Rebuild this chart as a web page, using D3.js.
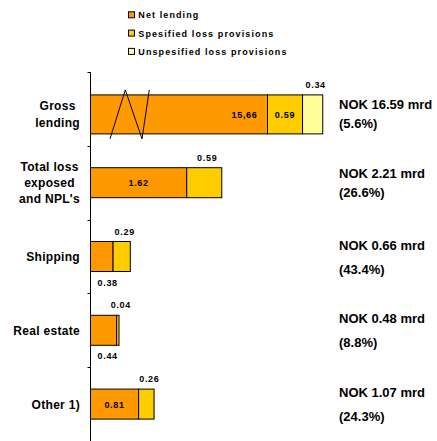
<!DOCTYPE html>
<html>
<head>
<meta charset="utf-8">
<script src="https://cdn.jsdelivr.net/npm/d3@7"></script>
<style>
  html, body { margin: 0; padding: 0; background: #fff; }
  svg { display: block; font-family: "Liberation Sans", Arial, sans-serif; font-weight: bold; }
</style>
</head>
<body>
<svg id="chart" width="437" height="441"></svg>
<script>
// Loss exposure by segment (NOK bn)
const categories = ["Gross lending", "Total loss exposed and NPL's", "Shipping", "Real estate", "Other 1)"];
const categoryLines = [["Gross", "lending"], ["Total loss", "exposed", "and NPL's"], ["Shipping"], ["Real estate"], ["Other 1)"]];
const netLending = [15.66, 1.62, 0.38, 0.44, 0.81];
const spesifiedProvisions = [0.59, 0.59, 0.29, 0.04, 0.26];
const unspesifiedProvisions = [0.34, 0, 0, 0, 0];
const netLabels = ["15,66", "1.62", "0.38", "0.44", "0.81"];
const totalLabels = ["NOK 16.59 mrd", "NOK 2.21 mrd", "NOK 0.66 mrd", "NOK 0.48 mrd", "NOK 1.07 mrd"];
const shareLabels = ["(5.6%)", "(26.6%)", "(43.4%)", "(8.8%)", "(24.3%)"];
const seriesNames = ["Net lending", "Spesified loss provisions", "Unspesified loss provisions"];
const seriesColors = ["#FF9900", "#FFCC00", "#FFFF99"];

// amount of the gross lending bar hidden behind the axis break
const breakFrom = 0.665, breakTo = 13.345;

const svg = d3.select("#chart");
const axisX = 90.5;

const x = d3.scaleLinear().domain([0, 5]).range([axisX, axisX + 297]);
// broken scale for the gross lending row
const xBroken = d3.scaleLinear()
  .domain([0, breakFrom, breakTo, 20])
  .range([x(0), x(breakFrom), x(breakFrom), x(breakFrom + 20 - breakTo)]);

const y = d3.scaleBand().domain(categories).range([72, 441]).padding(0);
const bw = y.bandwidth();

// vertical axis with ticks at band edges
const edges = categories.map(c => y(c)).concat([441]);
svg.append("line").attr("x1", axisX).attr("x2", axisX).attr("y1", 72).attr("y2", 441)
  .attr("stroke", "#000").attr("stroke-width", 1);
svg.selectAll(".tick").data(edges).join("line")
  .attr("x1", axisX - 3).attr("x2", axisX).attr("y1", d => Math.round(d) + 0.5).attr("y2", d => Math.round(d) + 0.5)
  .attr("stroke", "#000");

const rows = categories.map((c, i) => {
  const sx = i === 0 ? xBroken : x;
  const vals = [netLending[i], spesifiedProvisions[i], unspesifiedProvisions[i]];
  let acc = 0;
  const segs = vals.map((v, k) => {
    const s = { k, v, x0: sx(acc), x1: sx(acc + v) };
    acc += v;
    return s;
  }).filter(s => s.v > 0);
  const center = y(c) + bw / 2 + (i === 0 ? 5.5 : 0);
  const h = i === 0 ? 39 : 30;
  return { i, c, segs, center, h };
});

const g = svg.append("g");
rows.forEach(r => {
  const top = r.center - r.h / 2;
  g.selectAll(null).data(r.segs).join("rect")
    .attr("x", d => d.x0).attr("y", top)
    .attr("width", d => d.x1 - d.x0).attr("height", r.h)
    .attr("fill", d => seriesColors[d.k])
    .attr("stroke", "#000").attr("stroke-width", 1);

  // value labels
  r.segs.forEach(s => {
    const w = s.x1 - s.x0;
    const mid = (s.x0 + s.x1) / 2;
    const txt = s.k === 0 ? netLabels[r.i] : d3.format(".2f")(s.v);
    let tx, ty, anchor = "middle";
    if (r.i === 0 && s.k === 0) { tx = s.x1 - 10; ty = r.center + 3.5; anchor = "end"; }
    else if (r.i === 0 && s.k === 1) { tx = mid; ty = r.center + 3.5; }
    else if (s.k === 0 && w > 30) { tx = mid; ty = r.center + 3.5; }
    else if (s.k === 0) { tx = axisX + 7; ty = top + r.h + 14; anchor = "start"; }
    else { tx = mid + 3; ty = top - 7; }
    g.append("text").attr("x", tx).attr("y", ty).attr("text-anchor", anchor)
      .attr("font-size", 9).attr("letter-spacing", 0.7).attr("fill", "#000").text(txt);
  });

  // category label
  const lines = categoryLines[r.i];
  const lh = lines.length === 3 ? 15.8 : 17;
  const t = g.append("text").attr("font-size", 12).attr("letter-spacing", 0.3).attr("fill", "#000");
  lines.forEach((ln, j) => {
    t.append("tspan").attr("y", r.center + 4.5 + (j - (lines.length - 1) / 2) * lh).text(ln);
  });
  if (lines.length === 1) {
    t.attr("text-anchor", "end").selectAll("tspan").attr("x", 80);
  } else {
    const widths = t.selectAll("tspan").nodes().map(n => n.getComputedTextLength());
    const cx = 80 - d3.max(widths) / 2;
    t.attr("text-anchor", "middle").selectAll("tspan").attr("x", cx);
  }

  // totals on the right
  const gap = r.i < 2 ? 19 : 24;
  const b1 = r.center - (r.i < 2 ? 5 : 7);
  g.append("text").attr("x", 339).attr("y", b1).attr("font-size", 13).attr("fill", "#000").text(totalLabels[r.i]);
  g.append("text").attr("x", 339).attr("y", b1 + gap).attr("font-size", 13).attr("fill", "#000").text(shareLabels[r.i]);
});

// axis-break zigzag across the gross lending bar
const bx = x(breakFrom);
const r0 = rows[0];
const zTop = r0.center - r0.h / 2 - 5, zBot = r0.center + r0.h / 2 + 5;
svg.append("path")
  .attr("d", d3.line()([[bx - 20, zBot], [bx - 4.7, zTop], [bx + 12, zBot], [bx + 19.3, zTop]]))
  .attr("fill", "none").attr("stroke", "#000").attr("stroke-width", 1);

// legend
const legend = svg.append("g");
seriesNames.forEach((n, k) => {
  const ly = 18.3 + k * 18.3;
  legend.append("rect").attr("x", 128.5).attr("y", ly - 6.5).attr("width", 6).attr("height", 6)
    .attr("fill", seriesColors[k]).attr("stroke", "#000").attr("stroke-width", 1);
  legend.append("text").attr("x", 138.3).attr("y", ly).attr("font-size", 9).attr("letter-spacing", 1.1)
    .attr("fill", "#000").text(n);
});
</script>
</body>
</html>
